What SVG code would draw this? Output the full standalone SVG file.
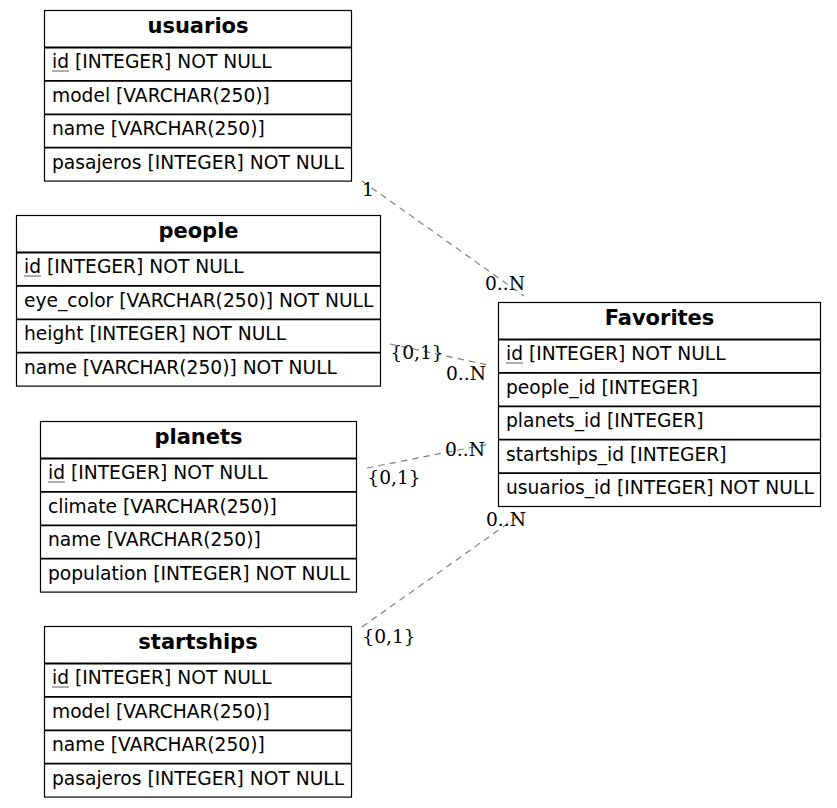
<svg xmlns="http://www.w3.org/2000/svg" width="837" height="808" viewBox="0 0 837 808">
<style>
.box{fill:#fff;stroke:#000;stroke-width:1.2}
.sep{stroke:#000;stroke-width:1.8}
.title{font-family:"DejaVu Sans",sans-serif;font-size:21px;font-weight:bold;text-anchor:middle;fill:#000}
.f{font-family:"DejaVu Sans",sans-serif;font-size:18.67px;fill:#000}
.ul{stroke:#777;stroke-width:1.2}
.edge{fill:none;stroke:#808080;stroke-width:1.2;stroke-dasharray:6.5,5}
.lbl{font-family:"DejaVu Serif",serif;font-size:18.67px;text-anchor:middle;fill:#000}
</style>
<rect width="837" height="808" fill="#fff"/>
<g id="connectors">
<path class="edge" d="M362,181 L524,296"/>
<path class="edge" d="M390,344 L488,365"/>
<path class="edge" d="M367,468 L489,444"/>
<path class="edge" d="M362,627 L524,512"/>
<text class="lbl" x="368" y="196">1</text>
<text class="lbl" x="505" y="290">0..N</text>
<text class="lbl" x="417" y="359">{0,1}</text>
<text class="lbl" x="466" y="380">0..N</text>
<text class="lbl" x="394" y="484">{0,1}</text>
<text class="lbl" x="465" y="456">0..N</text>
<text class="lbl" x="389" y="643">{0,1}</text>
<text class="lbl" x="506" y="526">0..N</text>
</g>
<g id="usuarios">
<rect class="box" x="44.5" y="10.5" width="307" height="170.6"/>
<path class="sep" d="M44.5,47.5H351.5M44.5,80.9H351.5M44.5,114.3H351.5M44.5,147.7H351.5"/>
<text class="title" x="198" y="33">usuarios</text>
<text class="f" x="52" y="68.3">id [INTEGER] NOT NULL</text>
<path class="ul" d="M52,71H69"/>
<text class="f" x="52" y="101.7">model [VARCHAR(250)]</text>
<text class="f" x="52" y="135.1">name [VARCHAR(250)]</text>
<text class="f" x="52" y="168.5">pasajeros [INTEGER] NOT NULL</text>
</g>
<g id="people">
<rect class="box" x="16.5" y="215.5" width="364" height="170.6"/>
<path class="sep" d="M16.5,252.5H380.5M16.5,285.9H380.5M16.5,319.3H380.5M16.5,352.7H380.5"/>
<text class="title" x="198.5" y="238">people</text>
<text class="f" x="24" y="273.3">id [INTEGER] NOT NULL</text>
<path class="ul" d="M24,276H41"/>
<text class="f" x="24" y="306.7">eye_color [VARCHAR(250)] NOT NULL</text>
<text class="f" x="24" y="340.1">height [INTEGER] NOT NULL</text>
<text class="f" x="24" y="373.5">name [VARCHAR(250)] NOT NULL</text>
</g>
<g id="planets">
<rect class="box" x="40.5" y="421.5" width="316" height="170.6"/>
<path class="sep" d="M40.5,458.5H356.5M40.5,491.9H356.5M40.5,525.3H356.5M40.5,558.7H356.5"/>
<text class="title" x="198.5" y="444">planets</text>
<text class="f" x="48" y="479.3">id [INTEGER] NOT NULL</text>
<path class="ul" d="M48,482H65"/>
<text class="f" x="48" y="512.7">climate [VARCHAR(250)]</text>
<text class="f" x="48" y="546.1">name [VARCHAR(250)]</text>
<text class="f" x="48" y="579.5">population [INTEGER] NOT NULL</text>
</g>
<g id="startships">
<rect class="box" x="44.5" y="626.5" width="307" height="170.6"/>
<path class="sep" d="M44.5,663.5H351.5M44.5,696.9H351.5M44.5,730.3H351.5M44.5,763.7H351.5"/>
<text class="title" x="198" y="649">startships</text>
<text class="f" x="52" y="684.3">id [INTEGER] NOT NULL</text>
<path class="ul" d="M52,687H69"/>
<text class="f" x="52" y="717.7">model [VARCHAR(250)]</text>
<text class="f" x="52" y="751.1">name [VARCHAR(250)]</text>
<text class="f" x="52" y="784.5">pasajeros [INTEGER] NOT NULL</text>
</g>
<g id="Favorites">
<rect class="box" x="498.5" y="302.5" width="322" height="204"/>
<path class="sep" d="M498.5,339.5H820.5M498.5,372.9H820.5M498.5,406.3H820.5M498.5,439.7H820.5M498.5,473.1H820.5"/>
<text class="title" x="659.5" y="325">Favorites</text>
<text class="f" x="506" y="360.3">id [INTEGER] NOT NULL</text>
<path class="ul" d="M506,363H523"/>
<text class="f" x="506" y="393.7">people_id [INTEGER]</text>
<text class="f" x="506" y="427.1">planets_id [INTEGER]</text>
<text class="f" x="506" y="460.5">startships_id [INTEGER]</text>
<text class="f" x="506" y="493.9">usuarios_id [INTEGER] NOT NULL</text>
</g>
</svg>
